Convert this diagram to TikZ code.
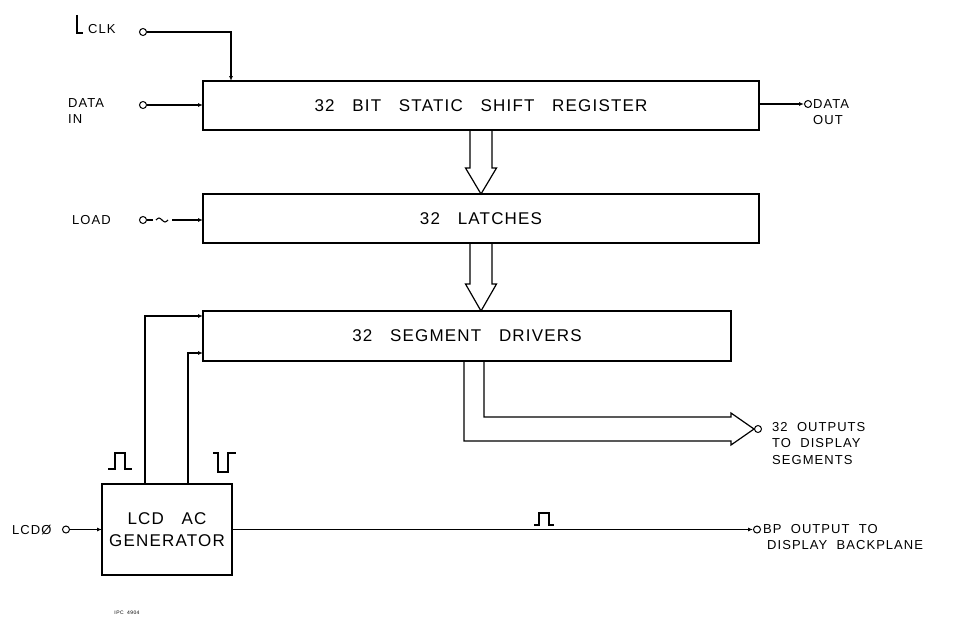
\documentclass[tikz,border=0pt]{standalone}
\usepackage{fontspec}
\usetikzlibrary{arrows.meta}
\newfontfamily\blkfont[LetterSpace=7,WordSpace=3]{Liberation Sans}
\newfontfamily\lblfont[LetterSpace=8,WordSpace=2]{Liberation Sans}

\begin{document}
\begin{tikzpicture}[x=1pt,y=-1pt,
    blk/.style={draw, line width=1.5pt, inner sep=0pt, outer sep=0pt, align=center,
      font=\blkfont\fontsize{17}{22}\selectfont},
    pin/.style={draw, circle, line width=1pt, inner sep=0pt, minimum size=7pt},
    lbl/.style={font=\lblfont\fontsize{13}{16.5}\selectfont, align=left, inner sep=0pt},
    sig/.style={line width=1.1pt, -{Latex[length=5pt,width=4pt]}},
    wire/.style={line width=1.1pt},
    bus/.style={line width=1.2pt}]
  \useasboundingbox (0,0) rectangle (968,618);

  % blocks
  \node[blk, minimum width=556pt, minimum height=49pt] (sr) at (481,105.5) {32 BIT STATIC SHIFT REGISTER};
  \node[blk, minimum width=556pt, minimum height=49pt] (lt) at (481,218.5) {32 LATCHES};
  \node[blk, minimum width=528pt, minimum height=50pt] (sd) at (467,336) {32 SEGMENT DRIVERS};
  \node[blk, minimum width=130pt, minimum height=91pt] (gen) at (167,529.5) {LCD AC\\GENERATOR};

  % terminals
  \node[pin] (clk) at (143,32) {};
  \node[pin] (din) at (143,105) {};
  \node[pin] (load) at (143,220) {};
  \node[pin] (dout) at (808,104) {};
  \node[pin] (lcd) at (66,529.5) {};
  \node[pin] (out) at (758,429) {};
  \node[pin] (bp) at (757,529.5) {};

  % labels
  \node[lbl, anchor=west] (clktxt) at (88,29) {CLK};
  \node[lbl, anchor=west] (dintxt) at (68,111) {DATA\\IN};
  \node[lbl, anchor=west] (loadtxt) at (72,220) {LOAD};
  \node[lbl, anchor=west] (douttxt) at (813,112) {DATA\\OUT};
  \node[lbl, anchor=west] (lcdtxt) at (12,530) {LCDØ};
  \node[lbl, anchor=north west] (outtxt) at (772,422) {32 OUTPUTS\\TO DISPLAY\\SEGMENTS};
  \node[lbl, anchor=north west] (bptxt) at (763,524) {BP OUTPUT TO\\\hspace{4pt}DISPLAY BACKPLANE};
  \node[lbl, font=\lblfont\fontsize{5}{6}\selectfont] (ipc) at (127,613) {IPC 4904};

  % inputs
  \coordinate (clkin) at (231,81);
  \draw[sig] (clk) -| (clkin);
  \draw[sig] (din) -- (din -| sr.west);
  \draw[wire] (load) -- (153,220);
  \draw[wire] (156,220) sin (159,218) cos (162,220) sin (165,222) cos (168,220);
  \coordinate (loadw) at (172,220);
  \draw[sig] (loadw) -- (loadw -| lt.west);
  \draw[sig] (lcd) -- (lcd -| gen.west);

  % outputs
  \draw[sig] (sr.east |- dout) -- (dout);
  \draw[sig] (gen.east |- bp) -- (bp);
  \draw[sig] ([xshift=-22pt]gen.north) |- ([yshift=20pt]sd.west);
  \draw[sig] ([xshift=21pt]gen.north) |- ([yshift=-17pt]sd.west);

  % wide arrows between blocks
  \draw[bus] ([xshift=-11pt]sr.south) -- ([xshift=-11pt,yshift=26pt]lt.north)
    -- ([xshift=-15.5pt,yshift=26pt]lt.north) -- (lt.north)
    -- ([xshift=15.5pt,yshift=26pt]lt.north) -- ([xshift=11pt,yshift=26pt]lt.north)
    -- ([xshift=11pt]sr.south);
  \coordinate (sdtip) at (lt.south |- sd.north);
  \draw[bus] ([xshift=-11pt]lt.south) -- ([xshift=-11pt,yshift=27pt]sdtip)
    -- ([xshift=-15.5pt,yshift=27pt]sdtip) -- (sdtip)
    -- ([xshift=15.5pt,yshift=27pt]sdtip) -- ([xshift=11pt,yshift=27pt]sdtip)
    -- ([xshift=11pt]lt.south);
  \draw[bus] ([xshift=-3pt]sd.south) |- ([yshift=-80pt]sd.south east)
    -- ([yshift=-84pt]sd.south east) -- (out.west)
    -- ([yshift=-52pt]sd.south east) -- ([yshift=-56pt]sd.south east)
    -| ([xshift=17pt]sd.south);

  % pulse and edge marks
  \draw[wire] (77,15) -- (77,33) -- (83,33);
  \draw[wire] (108,469) -- (115,469) -- (115,453) -- (125,453) -- (125,469) -- (132,469);
  \draw[wire] (213,453) -- (218,453) -- (218,472) -- (228,472) -- (228,453) -- (236,453);
  \draw[wire] (534,525) -- (539,525) -- (539,513) -- (549,513) -- (549,525) -- (554,525);
\end{tikzpicture}
\end{document}
